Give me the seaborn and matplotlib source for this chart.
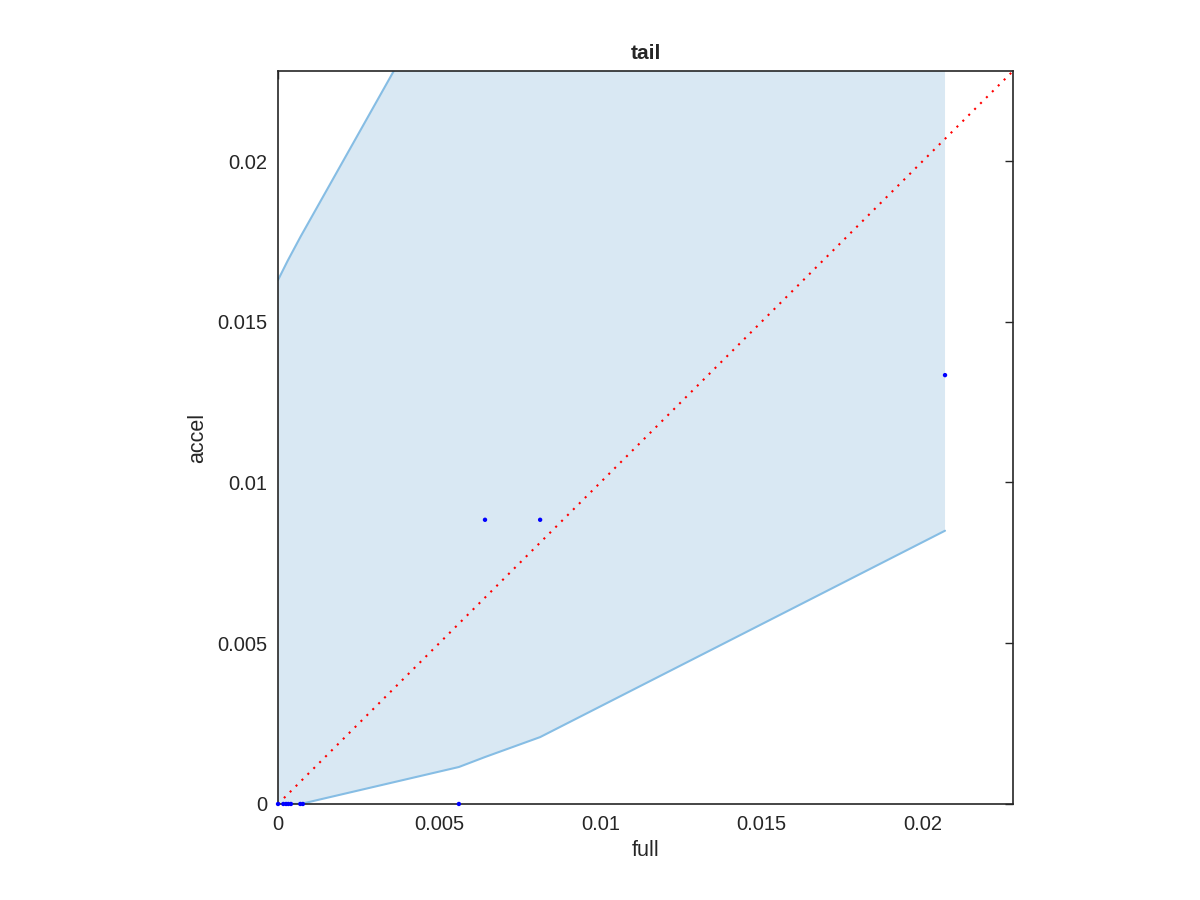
import numpy as np
import pandas as pd
import matplotlib
matplotlib.use("Agg")
import matplotlib.pyplot as plt
import seaborn as sns
from matplotlib.ticker import FuncFormatter

# scatter points (full vs accel)
full_vals = [0.0, 0.000165, 0.00025, 0.00032, 0.0004, 0.00069, 0.00077,
             0.00561, 0.00642, 0.00813, 0.02069]
accel_vals = [0.0, 0.0, 0.0, 0.0, 0.0, 0.0, 0.0,
              0.0, 0.00884, 0.00884, 0.01334]

# band boundaries
band_x = [0.0, 0.0003, 0.0007, 0.00561, 0.00642, 0.00813, 0.02069]
band_lo = [0.0, 0.0, 0.0, 0.00115, 0.00146, 0.00208, 0.0085]
band_hi = [0.0163, 0.0169, 0.01765, 0.0264, 0.0279, 0.0309, 0.0533]

lim = 0.0228

sns.set_style("white")
plt.rcParams["font.family"] = ["Liberation Sans", "DejaVu Sans"]

fig = plt.figure(figsize=(12, 9), dpi=100)
ax = fig.add_axes([0.2317, 0.1067, 0.6125, 0.8144])

ax.fill_between(band_x, band_lo, band_hi, color="#d9e8f3", linewidth=0, zorder=1)
sns.lineplot(x=band_x, y=band_lo, ax=ax, color="#86bde4", linewidth=1.5, zorder=2)
sns.lineplot(x=band_x, y=band_hi, ax=ax, color="#86bde4", linewidth=1.5, zorder=2)

ax.plot([0, lim], [0, lim], color="red", linestyle=(0, (1, 3)), linewidth=1.5, zorder=3)

df = pd.DataFrame({"full": full_vals, "accel": accel_vals})
sns.scatterplot(data=df, x="full", y="accel", ax=ax, color="blue", s=10,
                edgecolor="none", zorder=4, clip_on=False)

ax.set_xlim(0, lim)
ax.set_ylim(0, lim)
ticks = [0, 0.005, 0.01, 0.015, 0.02]
ax.set_xticks(ticks)
ax.set_yticks(ticks)
fmt = FuncFormatter(lambda v, p: "%g" % v)
ax.xaxis.set_major_formatter(fmt)
ax.yaxis.set_major_formatter(fmt)
ax.tick_params(direction="in", length=6, width=1, top=True, right=True,
               labelsize=14.5, colors="#262626", pad=8)
for s in ax.spines.values():
    s.set_visible(True)
    s.set_color("#262626")
    s.set_linewidth(1.2)

ax.set_xlabel("full", fontsize=15.5, color="#262626", labelpad=4)
ax.set_ylabel("accel", fontsize=15.5, color="#262626", labelpad=6)
ax.set_title("tail", fontsize=15, fontweight="bold", pad=9)

fig.savefig("out.png", dpi=100)
